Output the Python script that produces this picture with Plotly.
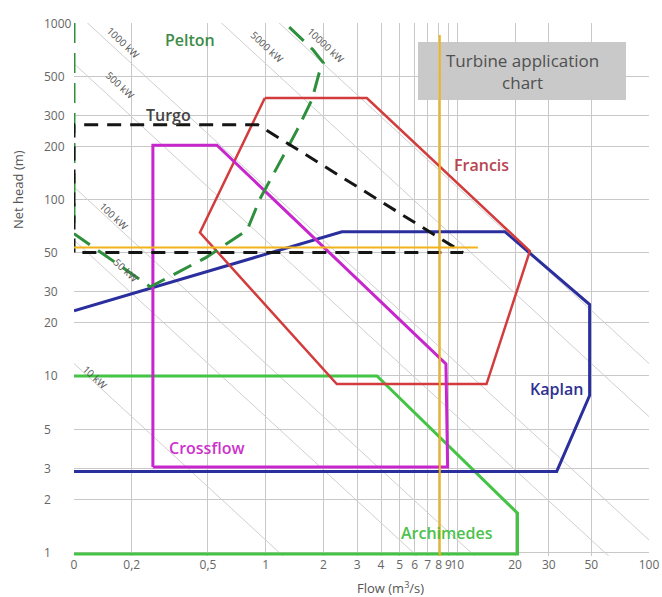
import math
import plotly.graph_objects as go

# ---- axis ticks -------------------------------------------------------------
X_TICKS = [0.1, 0.2, 0.5, 1, 2, 3, 4, 5, 6, 7, 8, 9, 10, 20, 30, 50, 100]
X_TICK_TEXT = ["0", "0,2", "0,5", "1", "2", "3", "4", "5", "6", "7", "8", "9",
               "10", "20", "30", "50", "100"]
Y_TICKS = [1, 2, 3, 5, 10, 20, 30, 50, 100, 200, 300, 500, 1000]
Y_TICK_TEXT = ["1", "2", "3", "5", "10", "20", "30", "50", "100", "200", "300",
               "500", "1000"]

# ---- turbine envelopes: flow (m3/s) and net head (m) -----------------------
PELTON_Q = [0.1, 0.1, 0.25, 0.49, 0.80, 0.93, 1.23, 1.46, 1.74, 1.92, 2.0, 1.77, 1.26]
PELTON_H = [1000, 64, 32, 47, 67, 100, 175, 248, 366, 542, 594, 703, 1000]

TURGO_Q = [0.1, 0.1, 0.91, 8.3, 10.7, 0.1]
TURGO_H = [50, 265, 265, 59, 50, 50]

FRANCIS_Q = [0.99, 3.37, 23.9, 14.2, 2.35, 0.454, 0.99]
FRANCIS_H = [376, 376, 51, 9.0, 9.0, 65, 376]

KAPLAN_Q = [0.1, 2.5, 17.7, 49.0, 49.0, 33.0, 0.1]
KAPLAN_H = [23.4, 65.7, 65.7, 25.4, 7.75, 2.88, 2.88]

CROSSFLOW_Q = [0.258, 0.258, 0.557, 8.72, 8.9, 0.258]
CROSSFLOW_H = [3.05, 203, 203, 11.7, 3.05, 3.05]

ARCHIMEDES_Q = [0.1, 3.81, 20.6, 20.6, 0.1]
ARCHIMEDES_H = [10, 10, 1.67, 0.98, 0.98]

# ---- iso-power lines (kW) ---------------------------------------------------
POWER_KW = [10, 50, 100, 500, 1000, 5000, 10000]
KW_PER_FLOW_HEAD = 8.5  # rho * g * efficiency, kW per (m3/s * m)

# ---- site operating point ---------------------------------------------------
SITE_FLOW = 8.1
SITE_HEAD = 53.4

W, H = 662, 597
L, R, T, B = 74, 13, 23, 41
X_RANGE = [-1.0, 2.0]
Y_RANGE = [-0.02, 3.0]
PW, PH = W - L - R, H - T - B

fig = go.Figure()

# iso-power diagonals
q_ends = [0.1, 100]
pq, phd = [], []
for p in POWER_KW:
    for q in q_ends:
        pq.append(q)
        phd.append(p / (KW_PER_FLOW_HEAD * q))
    pq.append(None)
    phd.append(None)
fig.add_trace(go.Scatter(x=pq, y=phd, mode="lines",
                         line=dict(color="#cfcfcf", width=1), hoverinfo="skip"))


def outline(q, h, color, width=3, dash="solid"):
    fig.add_trace(go.Scatter(x=q, y=h, mode="lines",
                             line=dict(color=color, width=width, dash=dash),
                             hoverinfo="skip"))


outline(ARCHIMEDES_Q, ARCHIMEDES_H, "#44c444", 3)
outline(KAPLAN_Q, KAPLAN_H, "#2b2f9e", 3)
outline(FRANCIS_Q, FRANCIS_H, "#d23c3c", 2.5)
outline(CROSSFLOW_Q, CROSSFLOW_H, "#c626cc", 3)
outline(PELTON_Q, PELTON_H, "#2e8f3c", 3, "20px,10px")
outline(TURGO_Q, TURGO_H, "#151515", 3, "14px,9px")

# site flow / head cross-hair
fig.add_trace(go.Scatter(x=[0.1, 12.8], y=[SITE_HEAD, SITE_HEAD], mode="lines",
                         line=dict(color="#f2b41a", width=2), hoverinfo="skip"))
fig.add_trace(go.Scatter(x=[SITE_FLOW, SITE_FLOW], y=[0.95, 855], mode="lines",
                         line=dict(color="#f2b41a", width=2), hoverinfo="skip"))

FONT = "Open Sans, Noto Sans, sans-serif"


def px_x(px):
    return (px - L) / PW


def px_y(py):
    return (H - B - py) / PH


ann = []

# head tick labels, left aligned
for v, t in zip(Y_TICKS, Y_TICK_TEXT):
    ann.append(dict(x=px_x(42), xref="paper", xanchor="left",
                    y=math.log10(v), yref="y", yanchor="middle", text=t,
                    showarrow=False,
                    font=dict(family=FONT, size=12, color="#666666")))

# power labels along the diagonals
power_labels = [
    ("1000 kW", 0.182, 770), ("500 kW", 0.174, 445), ("5000 kW", 1.02, 731),
    ("10000 kW", 2.06, 750), ("100 kW", 0.162, 81), ("50 kW", 0.187, 40),
    ("10 kW", 0.129, 9.9),
]
for t, q, h in power_labels:
    ann.append(dict(x=math.log10(q), y=math.log10(h), text=t, showarrow=False,
                    xanchor="center", yanchor="middle", textangle=43,
                    font=dict(family=FONT, size=10, color="#555555")))

# turbine names
names = [
    ("Pelton", 190, 40, "#3d8c4a"), ("Turgo", 168, 115, "#444444"),
    ("Francis", 481, 165, "#b8454f"), ("Kaplan", 556, 389, "#2e3192"),
    ("Crossflow", 206, 448, "#cc33cc"), ("Archimedes", 447, 533, "#4cc24c"),
]
for t, px, py, c in names:
    ann.append(dict(x=px_x(px), y=px_y(py), xref="paper", yref="paper",
                    xanchor="center", yanchor="middle", text=t, showarrow=False,
                    font=dict(family=FONT, size=16, color=c, weight=600)))

# chart title in grey box
ann.append(dict(x=px_x(522), y=px_y(71), xref="paper", yref="paper",
                xanchor="center", yanchor="middle",
                text="Turbine application<br>chart", showarrow=False,
                font=dict(family=FONT, size=17, color="#505050")))

# axis titles
ann.append(dict(x=px_x(390), y=px_y(587), xref="paper", yref="paper",
                xanchor="center", yanchor="middle",
                text="Flow (m<sup>3</sup>/s)", showarrow=False,
                font=dict(family=FONT, size=13, color="#555555")))
ann.append(dict(x=px_x(18), y=px_y(190), xref="paper", yref="paper",
                xanchor="center", yanchor="middle",
                text="Net head (m)", textangle=-90, showarrow=False,
                font=dict(family=FONT, size=13, color="#555555")))

fig.update_layout(
    width=W, height=H, margin=dict(l=L, r=R, t=T, b=B, autoexpand=False),
    paper_bgcolor="white", plot_bgcolor="white", showlegend=False,
    annotations=ann,
    shapes=[dict(type="rect", xref="paper", yref="paper",
                 x0=px_x(418), x1=px_x(626), y0=px_y(100), y1=px_y(42),
                 fillcolor="#c9c9c9", line=dict(width=0), layer="below")],
)
fig.update_xaxes(type="log", range=X_RANGE, tickmode="array", tickvals=X_TICKS,
                 ticktext=X_TICK_TEXT, tickangle=0, showgrid=True, automargin=False,
                 gridcolor="#c8c8c8", gridwidth=1, zeroline=False, showline=False,
                 ticks="", tickfont=dict(family=FONT, size=12, color="#666666"))
fig.update_yaxes(type="log", range=Y_RANGE, tickmode="array", tickvals=Y_TICKS,
                 ticktext=Y_TICK_TEXT, showticklabels=False, showgrid=True,
                 automargin=False, gridcolor="#c8c8c8", gridwidth=1,
                 zeroline=False, showline=False, ticks="")

fig.write_html("out.html")
